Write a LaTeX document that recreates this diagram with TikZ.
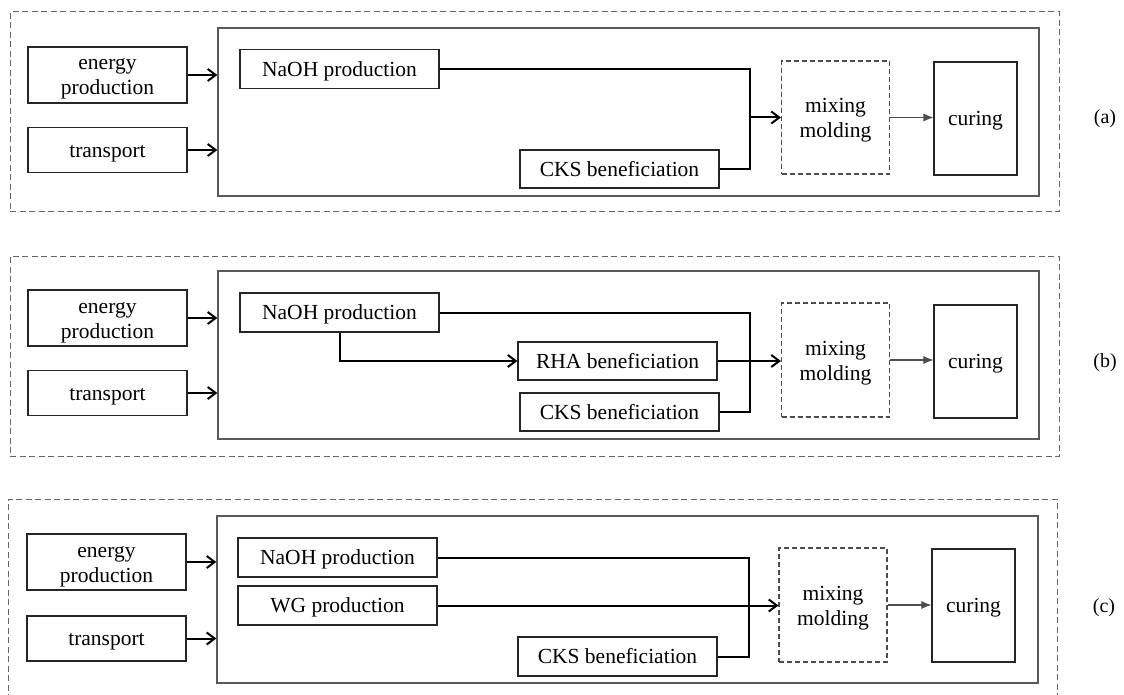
\documentclass[tikz,border=0pt]{standalone}
\usepackage{fontspec}
\setmainfont{Liberation Serif}
\usetikzlibrary{arrows.meta}
\newcommand\tLines[2]{\begin{tabular}{@{}c@{}}\rule{0pt}{22.5pt}#1\\#2\end{tabular}}
\begin{document}
\begin{tikzpicture}[x=1pt,y=-1pt,
  txt/.style={font=\fontsize{21.5}{25}\selectfont, inner sep=0pt},
  one/.style={text height=19.5pt, text depth=4.7pt},
  box/.style={txt, draw=black!85, line width=1.1pt},
  inbox/.style={draw=black!65, line width=1.3pt, inner sep=0pt},
  outbox/.style={draw=black!60, line width=1pt, dash pattern=on 6pt off 3.5pt, inner sep=0pt},
  mixbox/.style={txt, draw=black!70, line width=1.1pt, dash pattern=on 5pt off 3pt},
  conn/.style={line width=2pt, black},
  arr/.style={conn, -{Straight Barb[length=8pt,width=12pt,line width=2pt]}},
  garr/.style={line width=1.1pt, black!70, -{Latex[length=10pt,width=8pt]}},
  lab/.style={font=\fontsize{20}{24}\selectfont, inner sep=0pt, text height=14pt, text depth=4pt}
]
\useasboundingbox (0,0) rectangle (1124,695);

% ---------------- panel (a)
\node[outbox, minimum width=1049pt, minimum height=200pt] (outa) at (534.5,112) {};
\node[inbox, minimum width=821pt, minimum height=168pt] (ina) at (628.5,112) {};
\node[box, minimum width=159pt, minimum height=56pt] (epa) at (107.5,75) {\tLines{energy}{production}};
\node[box, one, minimum width=159pt, minimum height=45pt] (tra) at (107.5,150) {transport};
\node[box, one, minimum width=199pt, minimum height=39pt] (naoha) at (339.5,69) {NaOH production};
\node[box, one, minimum width=199pt, minimum height=38pt] (cksa) at (619.5,169) {CKS beneficiation};
\node[mixbox, minimum width=108pt, minimum height=113pt] (mixa) at (835.5,117.5) {\tLines{mixing}{molding}};
\node[box, one, minimum width=83pt, minimum height=113pt] (cura) at (975.5,118.5) {curing};
\node[lab] (la) at (1105,119) {(a)};
\coordinate (ja) at (750,117.5);
\draw[arr] (epa.east) -- (epa.east -| ina.west);
\draw[arr] (tra.east) -- (tra.east -| ina.west);
\draw[conn] (naoha.east) -| (ja);
\draw[conn] (cksa.east) -| (ja);
\draw[arr] (ja) -- (mixa.west);
\draw[garr] (mixa.east) -- (mixa.east -| cura.west);

% ---------------- panel (b)
\node[outbox, minimum width=1049pt, minimum height=200pt] (outb) at (534.5,356) {};
\node[inbox, minimum width=821pt, minimum height=168pt] (inb) at (628.5,355) {};
\node[box, minimum width=159pt, minimum height=56pt] (epb) at (107.5,318) {\tLines{energy}{production}};
\node[box, one, minimum width=159pt, minimum height=45pt] (trb) at (107.5,393) {transport};
\node[box, one, minimum width=199pt, minimum height=39pt] (naohb) at (339.5,312.5) {NaOH production};
\node[box, one, minimum width=199pt, minimum height=38pt] (rhab) at (617.5,361) {RHA beneficiation};
\node[box, one, minimum width=199pt, minimum height=38pt] (cksb) at (619.5,412) {CKS beneficiation};
\node[mixbox, minimum width=108pt, minimum height=114pt] (mixb) at (835.5,360) {\tLines{mixing}{molding}};
\node[box, one, minimum width=83pt, minimum height=113pt] (curb) at (975.5,361.5) {curing};
\node[lab] (lb) at (1105,362) {(b)};
\coordinate (jb) at (750,360);
\draw[arr] (epb.east) -- (epb.east -| inb.west);
\draw[arr] (trb.east) -- (trb.east -| inb.west);
\draw[conn] (naohb.east) -| (jb);
\draw[conn] (cksb.east) -| (jb);
\draw[arr] (rhab.east) -- (rhab.east -| mixb.west);
\draw[arr] (naohb.south -| 340,0) |- (rhab.west);
\draw[garr] (mixb.east) -- (mixb.east -| curb.west);

% ---------------- panel (c)
\draw[outbox] (8,700) -- (8,499) -- (1057,499) -- (1057,700);
\node[inbox, minimum width=821pt, minimum height=167pt] (inc) at (627.5,599.5) {};
\node[box, minimum width=159pt, minimum height=56pt] (epc) at (106.5,562) {\tLines{energy}{production}};
\node[box, one, minimum width=159pt, minimum height=45pt] (trc) at (106.5,638.5) {transport};
\node[box, one, minimum width=199pt, minimum height=39pt] (naohc) at (337.5,557.5) {NaOH production};
\node[box, one, minimum width=199pt, minimum height=39pt] (wgc) at (337.5,605.5) {WG production};
\node[box, one, minimum width=199pt, minimum height=39pt] (cksc) at (617.5,656.5) {CKS beneficiation};
\node[mixbox, minimum width=108pt, minimum height=114pt] (mixc) at (833,605) {\tLines{mixing}{molding}};
\node[box, one, minimum width=83pt, minimum height=113pt] (curc) at (973.5,605.5) {curing};
\node[lab] (lc) at (1104,607) {(c)};
\coordinate (jc) at (749,605);
\draw[arr] (epc.east) -- (epc.east -| inc.west);
\draw[arr] (trc.east) -- (trc.east -| inc.west);
\draw[conn] (naohc.east) -| (jc);
\draw[conn] (cksc.east) -| (jc);
\draw[arr] (wgc.east) -- (wgc.east -| mixc.west);
\draw[garr] (mixc.east) -- (mixc.east -| curc.west);
\end{tikzpicture}
\end{document}
